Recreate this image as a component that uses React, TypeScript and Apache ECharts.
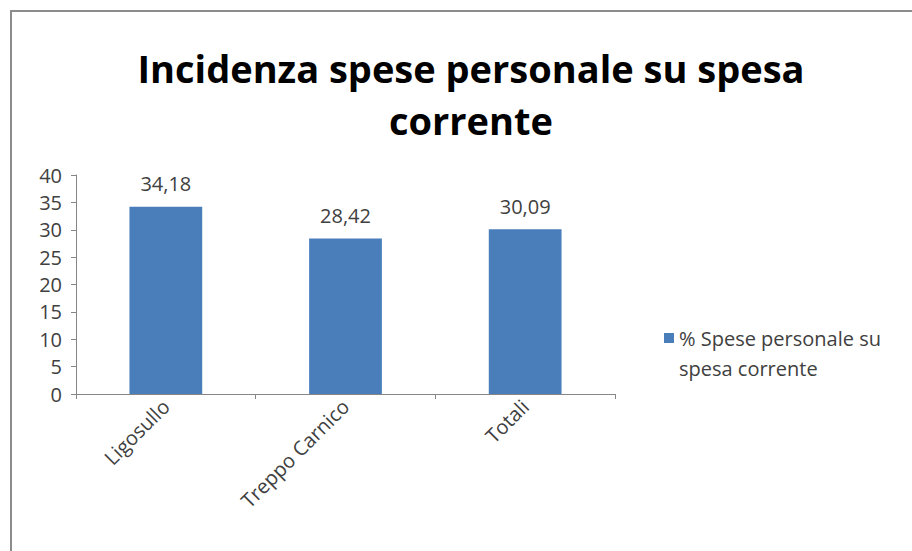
import React, { useEffect, useRef } from "react";
import * as echarts from "echarts";

const categories = ["Ligosullo", "Treppo Carnico", "Totali"];
const values = [34.18, 28.42, 30.09];
const seriesName = "% Spese personale su spesa corrente";
const titleText = "Incidenza spese personale su spesa\ncorrente";

export default function App() {
  const ref = useRef<HTMLDivElement>(null);
  useEffect(() => {
    document.body.style.margin = "0";
    const chart = echarts.init(ref.current!, null, { renderer: "svg" });
    const font = "Open Sans, Liberation Sans, sans-serif";
    chart.setOption({
      animation: false,
      backgroundColor: "#ffffff",
      title: {
        text: titleText,
        left: 466,
        textAlign: "center",
        top: 37,
        textStyle: {
          fontFamily: font,
          fontSize: 38,
          fontWeight: "bold",
          color: "#000000",
          lineHeight: 52,
        },
      },
      legend: {
        left: 659,
        top: 288,
        orient: "vertical",
        itemWidth: 10,
        itemHeight: 10,
        itemGap: 6,
        icon: "rect",
        formatter: () => "\n% Spese personale su\nspesa corrente",
        textStyle: {
          fontFamily: font,
          fontSize: 20,
          color: "#404040",
          lineHeight: 30,
        },
      },
      grid: { left: 76, right: 297, top: 175, bottom: 157, containLabel: false },
      xAxis: {
        type: "category",
        data: categories,
        axisLine: { lineStyle: { color: "#868686", width: 1 } },
        axisTick: { show: true, alignWithLabel: false, length: 5, lineStyle: { color: "#868686" } },
        axisLabel: {
          rotate: 45,
          fontFamily: font,
          fontSize: 20,
          color: "#404040",
          margin: 9,
        },
      },
      yAxis: {
        type: "value",
        min: 0,
        max: 40,
        interval: 5,
        splitLine: { show: false },
        axisLine: { show: true, lineStyle: { color: "#868686", width: 1 } },
        axisTick: { show: true, length: 5, inside: false, lineStyle: { color: "#868686" } },
        axisLabel: {
          fontFamily: font,
          fontSize: 20,
          color: "#404040",
          margin: 14,
        },
      },
      series: [
        {
          name: seriesName,
          type: "bar",
          data: values,
          barWidth: "40.5%",
          itemStyle: { color: "#4a7ebb" },
          label: {
            show: true,
            position: "top",
            distance: 13,
            formatter: (p: any) => p.value.toFixed(2).replace(".", ","),
            fontFamily: font,
            fontSize: 20,
            color: "#404040",
          },
        },
      ],
      graphic: [
        {
          type: "rect",
          shape: { x: 11, y: 11, width: 1000, height: 1000 },
          style: { fill: "none", stroke: "#8c8c8c", lineWidth: 2 },
          silent: true,
        },
      ],
    });
    return () => chart.dispose();
  }, []);
  return <div ref={ref} style={{ width: 912, height: 551 }} />;
}
